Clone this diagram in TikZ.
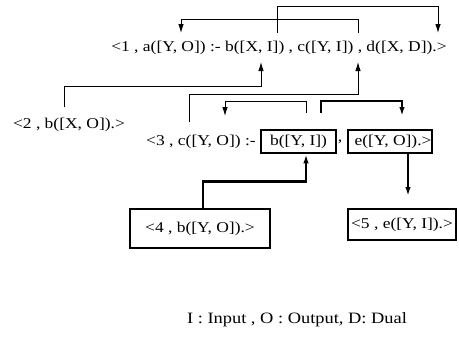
\documentclass[tikz,border=0pt]{standalone}
\usepackage{fontspec}
\setmainfont{Liberation Serif}[FakeStretch=1.165]
\usetikzlibrary{arrows.meta,positioning,calc}

\begin{document}
\begin{tikzpicture}[x=1pt,y=-1pt,
			every node/.style={font=\fontsize{15}{17}\selectfont,inner sep=0pt},
			clause/.style={anchor=center},
			litbox/.style={draw,line width=2.6pt,inner sep=0pt},
			thinarr/.style={-{Latex[length=9pt,width=5.5pt]},line width=0.9pt},
			thickarr/.style={-{Latex[length=9pt,width=5.5pt]},line width=2.6pt}
			]
			\useasboundingbox (0,0) rectangle (459,341);
			% clauses
			\node[clause] (r1) at (279,48) {<1 , a([Y, O]) :- b([X, I]) , c([Y, I]) , d([X, D]).>};
			\node[clause] (r2) at (69,125) {<2 , b([X, O]).>};
			\node[clause] (r3) at (201,142) {<3 , c([Y, O]) :-};
			\node[litbox,minimum width=75pt,minimum height=23pt] (bY) at (298.5,141.5) {b([Y, I])};
			\node[clause] (sep) at (340,142) {,};
			\node[litbox,minimum width=84pt,minimum height=23pt] (eY) at (390,141.5) {};
			\node[clause] (eYt) at (393,142) {e([Y, O]).>};
			\node[litbox,minimum width=140pt,minimum height=39pt] (r4) at (200,228.5) {<4 , b([Y, O]).>};
			\node[litbox,minimum width=108pt,minimum height=31pt] (r5) at (402,224.5) {};
			\node[clause] (r5t) at (402,225) {<5 , e([Y, I]).>};
			\node[clause,font=\fontsize{15.8}{17}\selectfont] (key) at (297,320) {I : Input , O : Output, D: Dual};
			% attach points
			\coordinate (aO) at (181,33);
			\coordinate (bXI) at (261,62);
			\coordinate (bXs) at (277,33);
			\coordinate (cYs) at (358,33);
			\coordinate (cYI) at (358,62);
			\coordinate (dXD) at (438,33);
			\coordinate (r2s) at (64,107);
			\coordinate (r3s) at (189,122);
			\coordinate (cYO) at (225,116);
			\coordinate (bYs) at (306,113);
			\coordinate (eYs) at (321,113);
			\coordinate (eYO) at (402,116);
			\coordinate (r5s) at (408,196);
			% links
			\draw[thinarr] (cYs) -- ++(0,-14) -| (aO);
			\draw[thinarr] (bXs) -- ++(0,-27) -| (dXD);
			\draw[thinarr] (r2s) -- ++(0,-21) -| (bXI);
			\draw[thinarr] (r3s) -- ++(0,-28) -| (cYI);
			\draw[thinarr] (bYs) -- ++(0,-12) -| (cYO);
			\draw[thickarr] (eYs) -- ++(0,-12) -| (eYO);
			\draw[thickarr] ([xshift=3pt]r4.north) -- ++(0,-26) -| ([xshift=7.5pt]bY.south);
			\draw[thickarr] ([xshift=18pt]eY.south) -- (r5s);
\end{tikzpicture}
\end{document}
